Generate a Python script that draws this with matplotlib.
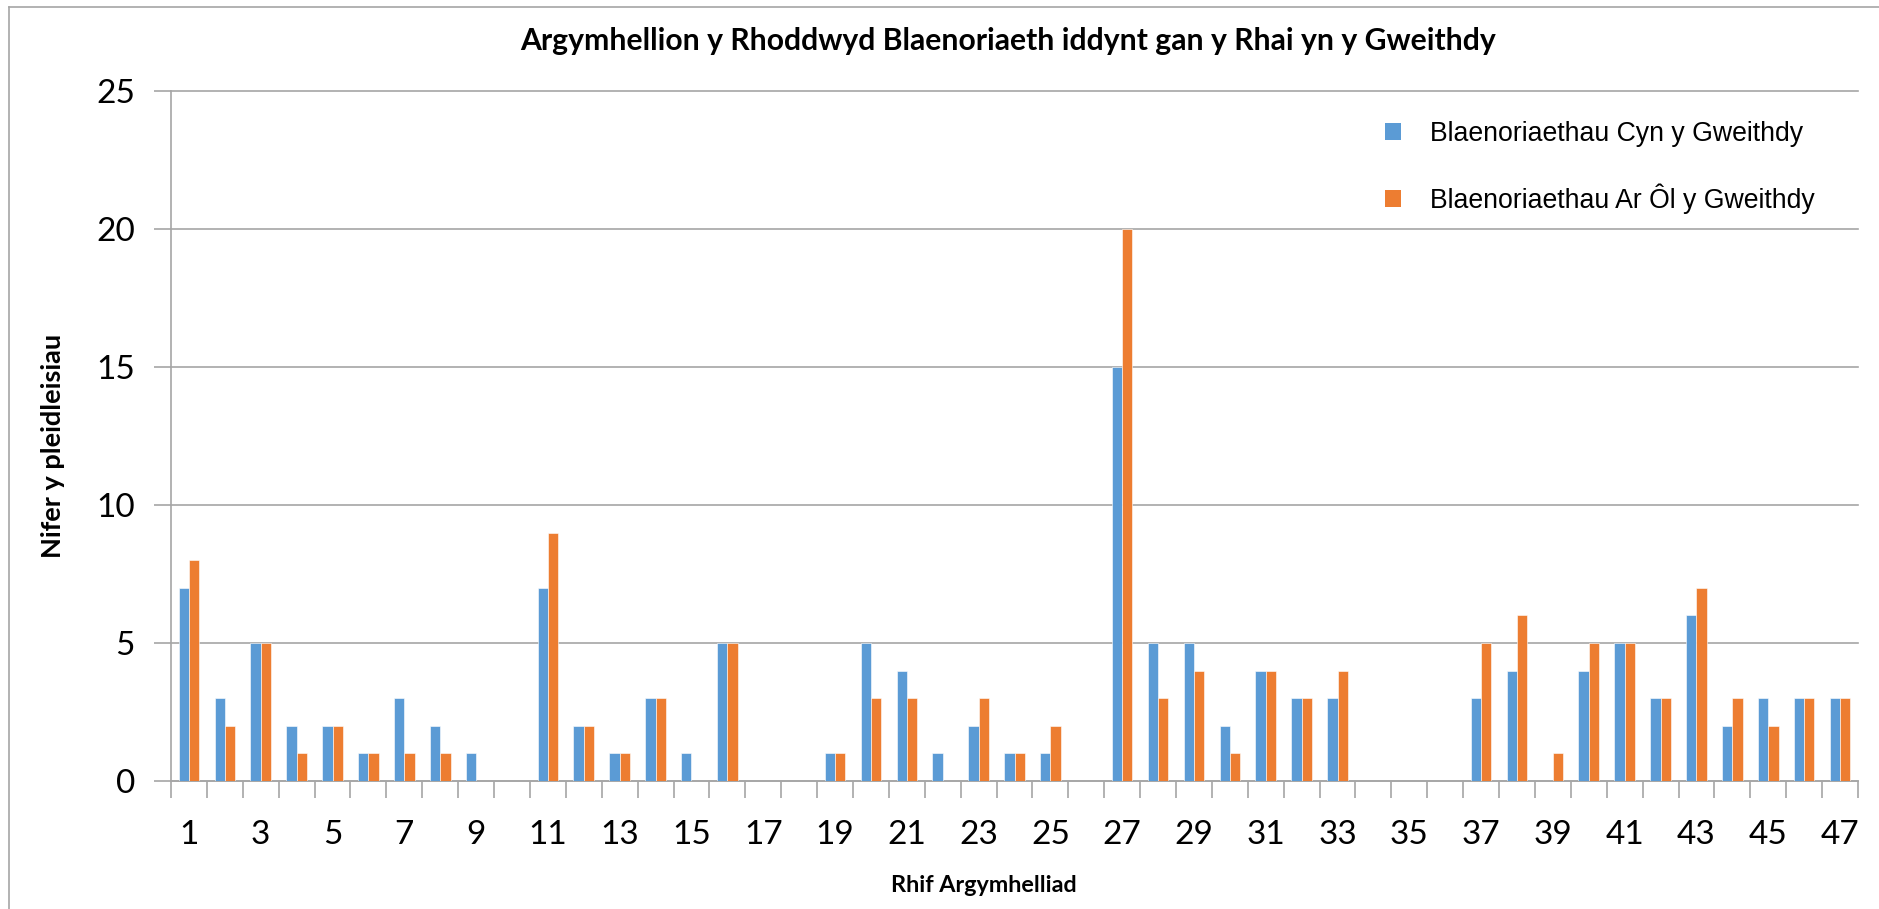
import matplotlib
matplotlib.use("Agg")
import matplotlib.pyplot as plt
from matplotlib.lines import Line2D
from matplotlib.patches import Patch
from matplotlib.ticker import MultipleLocator, FixedLocator
import numpy as np

categories = list(range(1, 48))
before = [7, 3, 5, 2, 2, 1, 3, 2, 1, 0,
          7, 2, 1, 3, 1, 5, 0, 0, 1, 5,
          4, 1, 2, 1, 1, 0, 15, 5, 5, 2,
          4, 3, 3, 0, 0, 0, 3, 4, 0, 4,
          5, 3, 6, 2, 3, 3, 3]
after = [8, 2, 5, 1, 2, 1, 1, 1, 0, 0,
         9, 2, 1, 3, 0, 5, 0, 0, 1, 3,
         3, 0, 3, 1, 2, 0, 20, 3, 4, 1,
         4, 3, 4, 0, 0, 0, 5, 6, 1, 5,
         5, 3, 7, 3, 2, 3, 3]
series_names = ["Blaenoriaethau Cyn y Gweithdy", "Blaenoriaethau Ar Ôl y Gweithdy"]
title = "Argymhellion y Rhoddwyd Blaenoriaeth iddynt gan y Rhai yn y Gweithdy"
xlabel = "Rhif Argymhelliad"
ylabel = "Nifer y pleidleisiau"

BLUE = "#5B9BD5"
ORANGE = "#ED7D31"
GRID = "#A6A6A6"

W, H = 1879, 909
fig = plt.figure(figsize=(W / 100, H / 100), dpi=100)
fig.patch.set_facecolor("white")

left, right, top, bottom = 171, 1858, 91, 781
ax = fig.add_axes([left / W, (H - bottom) / H, (right - left) / W, (bottom - top) / H])

x = np.array(categories, dtype=float)
bw = 0.287
ax.bar(x - bw / 2, before, width=bw, color=BLUE, edgecolor="white", linewidth=0.4, zorder=3)
ax.bar(x + bw / 2, after, width=bw, color=ORANGE, edgecolor="white", linewidth=0.4, zorder=3)

ax.set_xlim(0.5, 47.5)
ax.set_ylim(0, 25)

ax.yaxis.set_major_locator(MultipleLocator(5))
ax.grid(axis="y", color=GRID, linewidth=1.2, zorder=0)
for ln in ax.get_ygridlines():
    ln.set_clip_on(False)

ax.set_xticks(categories[::2])
ax.set_xticklabels([str(c) for c in categories[::2]])
ax.xaxis.set_minor_locator(FixedLocator(np.arange(0.5, 48.5, 1.0)))
ax.tick_params(axis="x", which="major", length=0, pad=28)
ax.tick_params(axis="x", which="minor", length=12, width=1.2, color=GRID, direction="out")
ax.tick_params(axis="y", which="major", length=12, width=1.2, color=GRID, direction="out", pad=14)

for lab in ax.get_xticklabels() + ax.get_yticklabels():
    lab.set_fontfamily("Lato")
    lab.set_fontsize(24)

for s in ["top", "right"]:
    ax.spines[s].set_visible(False)
for s in ["left", "bottom"]:
    ax.spines[s].set_color(GRID)
    ax.spines[s].set_linewidth(1.2)

fig.text(1008 / W, 1 - 41 / H, title, ha="center", va="center",
         fontsize=21.7, fontweight="bold", fontfamily="Lato")
fig.text(984 / W, 1 - 886 / H, xlabel, ha="center", va="center",
         fontsize=16.8, fontweight="bold", fontfamily="Lato")
fig.text(53 / W, 1 - 446 / H, ylabel, ha="center", va="center", rotation=90,
         fontsize=19.5, fontweight="bold", fontfamily="Lato")

handles = [Patch(facecolor=BLUE, edgecolor="none"), Patch(facecolor=ORANGE, edgecolor="none")]
fig.legend(handles, series_names, loc="upper left",
           bbox_to_anchor=(1385 / W, 1 - 121 / H), frameon=False,
           prop={"family": "Liberation Sans", "size": 19.2},
           handlelength=0.6, handleheight=0.6, handletextpad=1.1,
           labelspacing=1.35, borderpad=0, borderaxespad=0)

fig.add_artist(Line2D([8.5 / W, 8.5 / W], [0, 1 - 7 / H], transform=fig.transFigure,
                      color=GRID, linewidth=1.2))
fig.add_artist(Line2D([8.5 / W, 1], [1 - 7 / H, 1 - 7 / H], transform=fig.transFigure,
                      color=GRID, linewidth=1.2))

fig.savefig("out.png", dpi=100, facecolor="white")
